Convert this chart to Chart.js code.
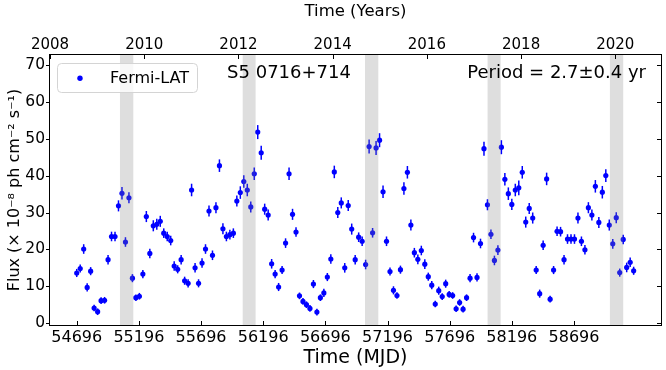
<!DOCTYPE html>
<html>
<head>
<meta charset="utf-8">
<script src="https://cdn.jsdelivr.net/npm/chart.js@4.4.1/dist/chart.umd.min.js"></script>
<style>
html,body{margin:0;padding:0;background:#fff;}
#wrap{width:666px;height:370px;}
</style>
</head>
<body>
<div id="wrap"><canvas id="c" width="666" height="370"></canvas></div>
<script>
// ---- Data ----
const mjd = [
54696,54724,54752,54780,54808,54836,54864,54892,54920,54948,
54976,55004,55032,55060,55088,55116,55144,55172,55200,55228,
55256,55284,55312,55340,55368,55396,55424,55452,55480,55508,
55536,55564,55592,55620,55648,55676,55704,55732,55760,55788,
55816,55844,55872,55900,55928,55956,55984,56012,56040,56068,
56096,56124,56152,56180,56208,56236,56264,56292,56320,56348,
56376,56404,56432,56460,56488,56516,56544,56572,56600,56628,
56656,56684,56712,56740,56768,56796,56824,56852,56880,56908,
56936,56964,56992,57020,57048,57076,57104,57132,57160,57188,
57216,57244,57272,57300,57328,57356,57384,57412,57440,57468,
57496,57524,57552,57580,57608,57636,57664,57692,57720,57748,
57776,57804,57832,57860,57888,57916,57944,57972,58000,58028,
58056,58084,58112,58140,58168,58196,58224,58252,58280,58308,
58336,58364,58392,58420,58448,58476,58504,58532,58560,58588,
58616,58644,58672,58700,58728,58756,58784,58812,58840,58868,
58896,58924,58952,58980,59008,59036,59064,59092,59120,59148,
59176];
const flux = [
13.6,14.8,20.1,9.7,14.1,4.1,3.1,6.1,6.2,17.2,
23.5,23.5,31.8,35.2,22.0,34.0,12.2,6.9,7.3,13.3,
28.9,18.9,26.4,26.8,27.6,24.4,23.5,22.4,15.5,14.6,
17.2,11.5,10.8,36.1,15.0,10.8,16.3,20.1,30.4,18.4,
31.3,42.7,25.6,23.5,24.0,24.4,33.1,35.4,38.4,36.1,
31.5,40.5,51.8,46.2,30.9,29.3,16.1,13.3,9.8,14.4,
21.7,40.5,29.5,24.7,7.4,5.9,5.0,4.0,10.6,3.0,
6.9,8.2,12.5,17.4,41.0,30.0,32.6,15.0,31.9,25.5,
17.2,23.3,22.2,15.9,47.9,24.5,47.5,49.6,35.6,22.2,
14.0,8.9,7.5,14.5,36.5,40.9,26.6,19.1,17.3,19.7,
16.0,12.6,10.3,5.2,8.8,7.2,10.7,7.8,7.5,3.9,
5.6,3.8,6.9,12.2,23.2,12.4,21.6,47.3,32.1,24.1,
17.0,19.8,47.7,39.0,35.1,32.2,36.1,36.7,40.9,27.4,
31.1,28.5,14.4,8.0,21.1,39.1,6.5,14.4,24.9,24.8,
17.2,22.8,22.8,22.8,28.5,22.2,19.9,31.3,29.3,37.1,
27.3,35.5,40.0,26.6,21.5,28.6,13.7,22.7,15.1,16.5,
14.2];
const fluxErr = [
1.1,1.1,1.3,1.1,1.1,0.9,0.9,0.9,0.9,1.3,
1.3,1.3,1.5,1.7,1.3,1.5,1.1,0.9,0.9,1.1,
1.5,1.3,1.5,1.5,1.5,1.3,1.3,1.3,1.3,1.1,
1.3,1.1,1.1,1.7,1.3,1.1,1.3,1.3,1.5,1.3,
1.5,1.7,1.5,1.3,1.3,1.3,1.5,1.7,1.7,1.7,
1.5,1.7,1.9,1.9,1.5,1.5,1.3,1.1,1.1,1.1,
1.3,1.7,1.5,1.3,0.9,0.9,0.9,0.9,1.1,0.9,
0.9,1.1,1.1,1.3,1.7,1.5,1.5,1.3,1.5,1.5,
1.3,1.3,1.3,1.3,1.9,1.3,1.9,1.9,1.7,1.3,
1.1,1.1,0.9,1.1,1.7,1.7,1.5,1.3,1.3,1.3,
1.3,1.1,1.1,0.9,1.1,0.9,1.1,0.9,0.9,0.9,
0.9,0.9,0.9,1.1,1.3,1.1,1.3,1.9,1.5,1.3,
1.3,1.3,1.9,1.7,1.7,1.5,1.7,2.0,1.7,1.5,
1.5,1.5,1.1,1.1,1.3,1.7,0.9,1.1,1.3,1.3,
1.3,1.3,1.3,1.3,1.5,1.3,1.3,1.5,1.5,1.7,
1.5,1.7,1.7,1.5,1.3,1.5,1.1,1.3,1.3,1.3,
1.1];
const bandStart = [55044, 56031, 57015, 58001, 58985];
const bandEnd   = [55151, 56135, 57122, 58106, 59092];
const mjdTicks  = [54696, 55196, 55696, 56196, 56696, 57196, 57696, 58196, 58696];
const yearTicks = [2008, 2010, 2012, 2014, 2016, 2018, 2020];
const fluxTicks = [0, 10, 20, 30, 40, 50, 60, 70];

// ---- Chart ----
Chart.defaults.font.family = "'DejaVu Sans', sans-serif";
Chart.defaults.color = '#000';

const points = mjd.map((x, i) => ({x: x, y: flux[i]}));

const deco = {
  id: 'deco',
  beforeDatasetsDraw(chart) {
    const ctx = chart.ctx, xs = chart.scales.x, ys = chart.scales.y, a = chart.chartArea;
    ctx.save();
    ctx.beginPath(); ctx.rect(a.left, a.top, a.right - a.left, a.bottom - a.top); ctx.clip();
    ctx.strokeStyle = '#0000ff';
    ctx.lineWidth = 1.5;
    for (let i = 0; i < mjd.length; i++) {
      const px = xs.getPixelForValue(mjd[i]);
      ctx.beginPath();
      ctx.moveTo(px, ys.getPixelForValue(flux[i] - fluxErr[i]));
      ctx.lineTo(px, ys.getPixelForValue(flux[i] + fluxErr[i]));
      ctx.stroke();
    }
    ctx.restore();
  },
  afterDatasetsDraw(chart) {
    const ctx = chart.ctx, xs = chart.scales.x, xt = chart.scales.xTop, ys = chart.scales.y, a = chart.chartArea;
    ctx.save();
    // shaded bands (drawn over the points)
    ctx.fillStyle = 'rgba(128,128,128,0.26)';
    for (let i = 0; i < bandStart.length; i++) {
      const x0 = xs.getPixelForValue(bandStart[i]);
      const x1 = xs.getPixelForValue(bandEnd[i]);
      ctx.fillRect(x0, a.top, x1 - x0, a.bottom - a.top);
    }
    // frame
    ctx.strokeStyle = '#000';
    ctx.lineWidth = 1;
    ctx.strokeRect(Math.round(a.left) - 0.5, Math.round(a.top) - 0.5, Math.round(a.right - a.left) + 1, Math.round(a.bottom - a.top) + 1);
    // ticks
    ctx.beginPath();
    const tl = 4;
    mjdTicks.forEach(v => { const p = Math.round(xs.getPixelForValue(v)) + 0.5; ctx.moveTo(p, a.bottom); ctx.lineTo(p, a.bottom - tl); });
    yearTicks.forEach(v => { const p = Math.round(xt.getPixelForValue(v)) + 0.5; ctx.moveTo(p, a.top); ctx.lineTo(p, a.top + tl); });
    fluxTicks.forEach(v => {
      const p = Math.round(ys.getPixelForValue(v)) + 0.5;
      ctx.moveTo(a.left, p); ctx.lineTo(a.left - tl, p);
      ctx.moveTo(a.right, p); ctx.lineTo(a.right - tl, p);
    });
    ctx.stroke();
    // legend
    ctx.fillStyle = 'rgba(255,255,255,0.8)';
    ctx.strokeStyle = '#d4d4d4';
    ctx.lineWidth = 1;
    ctx.beginPath();
    ctx.roundRect(57.5, 63.5, 140, 29, 4);
    ctx.fill(); ctx.stroke();
    ctx.fillStyle = '#0000ff';
    ctx.beginPath(); ctx.arc(80, 78.3, 2.7, 0, Math.PI * 2); ctx.fill();
    ctx.fillStyle = '#000';
    ctx.font = "16px 'DejaVu Sans'";
    ctx.textBaseline = 'middle';
    ctx.textAlign = 'left';
    ctx.fillText('Fermi-LAT', 110, 78.5);
    // annotations
    ctx.font = "18px 'DejaVu Sans'";
    ctx.textAlign = 'center';
    ctx.fillText('S5 0716+714', 289, 73.5);
    ctx.textAlign = 'right';
    ctx.fillText('Period = 2.7\u00b10.4 yr', 646, 73.5);
    ctx.restore();
  }
};

new Chart(document.getElementById('c'), {
  type: 'scatter',
  data: {
    datasets: [{
      label: 'Fermi-LAT',
      data: points,
      showLine: false,
      pointRadius: 2.6,
      pointBorderWidth: 0,
      pointBackgroundColor: '#0000ff',
      pointBorderColor: '#0000ff'
    }]
  },
  options: {
    responsive: false,
    animation: false,
    devicePixelRatio: 1,
    events: [],
    layout: { padding: { left: 0, right: 5, top: 0, bottom: 0 } },
    plugins: { legend: { display: false }, tooltip: { enabled: false } },
    scales: {
      x: {
        type: 'linear', position: 'bottom', min: 54481, max: 59396,
        afterBuildTicks: s => { s.ticks = mjdTicks.map(v => ({value: v})); },
        afterFit: s => { s.height = 45; },
        grid: { display: false, drawTicks: false },
        border: { display: false },
        ticks: { font: { size: 16 }, color: '#000', maxRotation: 0, autoSkip: false, padding: 3, callback: v => String(v) },
        title: { display: true, text: 'Time (MJD)', font: { size: 19 }, color: '#000', padding: { top: 0, bottom: 1 } }
      },
      xTop: {
        type: 'linear', position: 'top', min: 2008, max: 2020.97,
        afterBuildTicks: s => { s.ticks = yearTicks.map(v => ({value: v})); },
        afterFit: s => { s.height = 55; },
        grid: { display: false, drawTicks: false },
        border: { display: false },
        ticks: { font: { size: 15 }, color: '#000', maxRotation: 0, autoSkip: false, padding: 1, callback: v => String(v) },
        title: { display: true, text: 'Time (Years)', font: { size: 16.5 }, color: '#000', padding: { top: 2, bottom: 10 } }
      },
      y: {
        type: 'linear', position: 'left', min: -0.5, max: 72.7,
        afterBuildTicks: s => { s.ticks = fluxTicks.map(v => ({value: v})); },
        afterFit: s => { s.width = 50; },
        grid: { display: false, drawTicks: false },
        border: { display: false },
        ticks: { font: { size: 15.5 }, color: '#000', autoSkip: false, padding: 5, callback: v => String(v) },
        title: { display: true, text: 'Flux (\u00d7 10\u207b\u2078 ph cm\u207b\u00b2 s\u207b\u00b9)', font: { size: 16 }, color: '#000', padding: { top: 5, bottom: 0 } }
      }
    }
  },
  plugins: [deco]
});
</script>
</body>
</html>
